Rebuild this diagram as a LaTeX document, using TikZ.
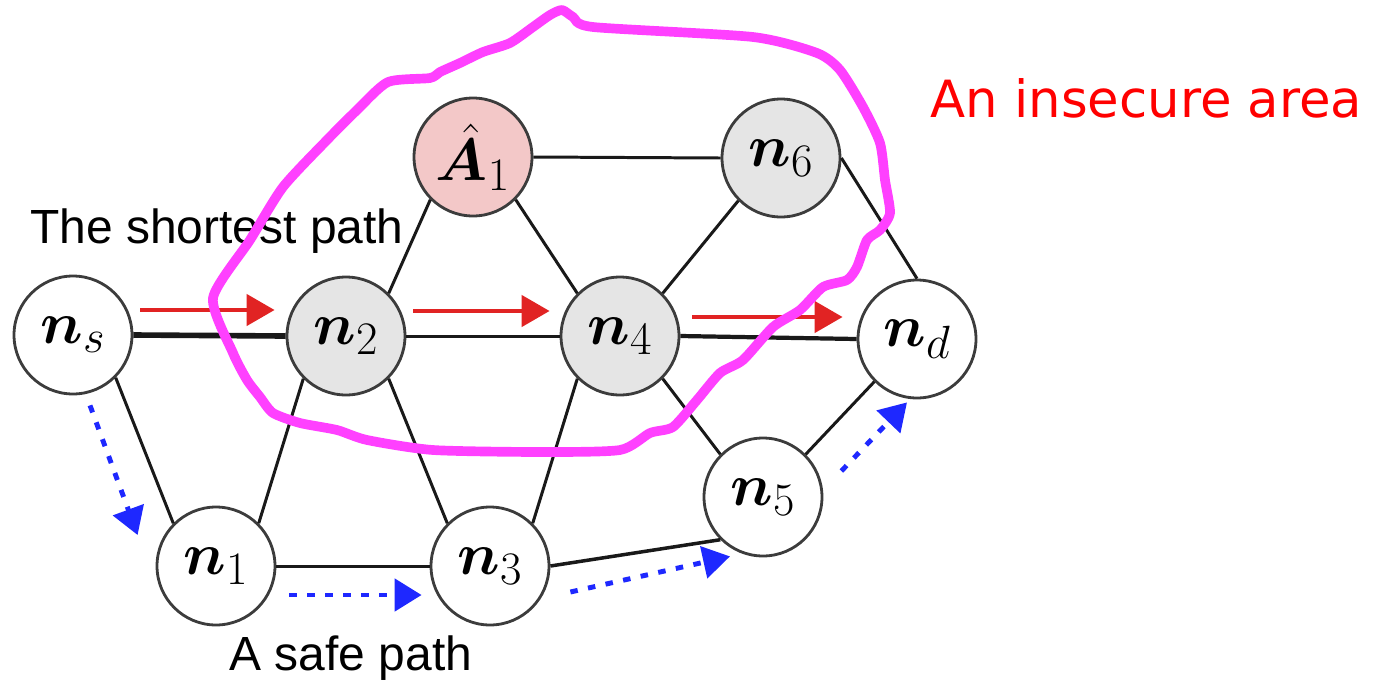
\RequirePackage{fix-cm}
\documentclass[tikz,border=0pt]{standalone}
\usepackage{fontspec}
\usepackage{bm}
\usepackage{tikz}
\usetikzlibrary{arrows.meta, calc}
\newfontfamily\pathfont{Liberation Sans}
\newfontfamily\areafont{DejaVu Sans}
\renewcommand\defaultscriptratio{.78}
\definecolor{cRing}{RGB}{60,60,60}
\definecolor{cGray}{RGB}{229,229,229}
\definecolor{cPink}{RGB}{243,200,200}
\definecolor{cRed}{RGB}{225,35,35}
\definecolor{cBlue}{RGB}{30,40,255}
\definecolor{cLoop}{RGB}{255,64,255}
\tikzset{
    host/.style     ={circle, draw=cRing, line width=1.6pt, minimum size=2.36cm, inner sep=0pt, fill=white, font=\fontsize{34}{36}\selectfont},
    busyhost/.style ={host, fill=cGray},
    attacker/.style ={host, fill=cPink},
    link/.style     ={line width=1.7pt, draw=black!90},
    shortarrow/.style={-{Triangle[length=0.56cm, width=0.62cm]}, line width=2.6pt, draw=cRed},
    safearrow/.style={-{Triangle[length=0.54cm, width=0.64cm]}, line width=2.8pt, draw=cBlue, dash pattern=on 0.15cm off 0.21cm},
    pathlabel/.style={inner sep=0pt, font=\pathfont\fontsize{27.3}{29}\selectfont},
    arealabel/.style={inner sep=0pt, text=red, font=\areafont\fontsize{29.2}{31}\selectfont},
}

\begin{document}
\begin{tikzpicture}[x=0.02cm, y=-0.02cm]
                \useasboundingbox (0,0) rectangle (1378,680);
                % hosts
                \node[host]     (ns) at (73,335)  {$\bm{n}_{s}$};
                \node[busyhost] (n2) at (346,336) {$\bm{n}_{2}$};
                \node[busyhost] (n4) at (620,336) {$\bm{n}_{4}$};
                \node[host]     (nd) at (917,339) {$\bm{n}_{d}$};
                \node[attacker] (a1) at (473,157) {$\hat{\bm{A}}_{1}$};
                \node[busyhost] (n6) at (781,158) {$\bm{n}_{6}$};
                \node[host]     (n1) at (216,566) {$\bm{n}_{1}$};
                \node[host]     (n3) at (490,566) {$\bm{n}_{3}$};
                \node[host]     (n5) at (763,497) {$\bm{n}_{5}$};
                % links
                \draw[link, line width=3.2pt] (ns.east) -- (n2.west);
                \draw[link] (ns.south east) -- (n1.north west);
                \draw[link] (n1.north east) -- (n2.south west);
                \draw[link] (n1.east) -- (n3.west);
                \draw[link] (n2.north east) -- (a1.south west);
                \draw[link] (n2.east) -- (n4.west);
                \draw[link] (n2.south east) -- (n3.north west);
                \draw[link] (a1.east) -- (n6.west);
                \draw[link] (a1.south east) -- (n4.north west);
                \draw[link] (n3.north east) -- (n4.south west);
                \draw[link, line width=2pt] (n3.east) -- (n5.south west);
                \draw[link] (n4.north east) -- (n6.south west);
                \draw[link] (n4.south east) -- (n5.north west);
                \draw[link, line width=2.4pt] (n4.east) -- (nd.west);
                \draw[link] (n6.east) -- (nd.north);
                \draw[link] (n5.north east) -- (nd.south west);
                % shortest path
                \draw[shortarrow] ($(ns.east)+(7,-25)$) -- ($(n2.west)+(-11,-26)$);
                \draw[shortarrow] ($(n2.east)+(7,-25)$) -- ($(n4.west)+(-10,-25)$);
                \draw[shortarrow] ($(n4.east)+(12,-19)$) -- ($(nd.west)+(-14,-22)$);
                % safe path
                \draw[safearrow] ($(ns.south)+(17,10)$) -- ($(n1.west)+(-18,-31)$);
                \draw[safearrow] ($(n1.east)+(13,29)$) -- ($(n3.west)+(-8,29)$);
                \draw[safearrow] ($(n3.east)+(20,26)$) -- ($(n5.south)+(-33,-1)$);
                \draw[safearrow] ($(n5.east)+(18,-26)$) -- ($(nd.south)+(-10,3)$);
                % labels
                \node[pathlabel, anchor=base west] (shortlbl) at (30,243) {The shortest path};
                \node[pathlabel, anchor=base] (safelbl) at (351,670) {A safe path};
                \node[arealabel, anchor=base west] (arealbl) at (930,117) {An insecure area};
                % insecure area
                \draw[cLoop, line width=5.5pt, line join=round] plot[smooth cycle, tension=0.4] coordinates {
                    (213,298) (233,353) (247,380) (260,397) (273,413) (300,423) (337,430) (367,440)
                    (433,450) (540,452) (620,450) (650,433) (673,427) (697,400) (720,373) (743,360)
                    (773,327) (800,310) (823,287) (847,280) (857,267) (867,240) (880,230) (890,213)
                    (885,180) (880,143) (863,107) (840,70) (817,53) (753,37) (593,27) (573,17)
                    (562,10) (550,15) (533,27) (510,43) (483,52) (460,63) (440,72) (430,78)
                    (388,82) (357,110) (327,140) (283,187) (250,240)};
            \end{tikzpicture}
\end{document}
